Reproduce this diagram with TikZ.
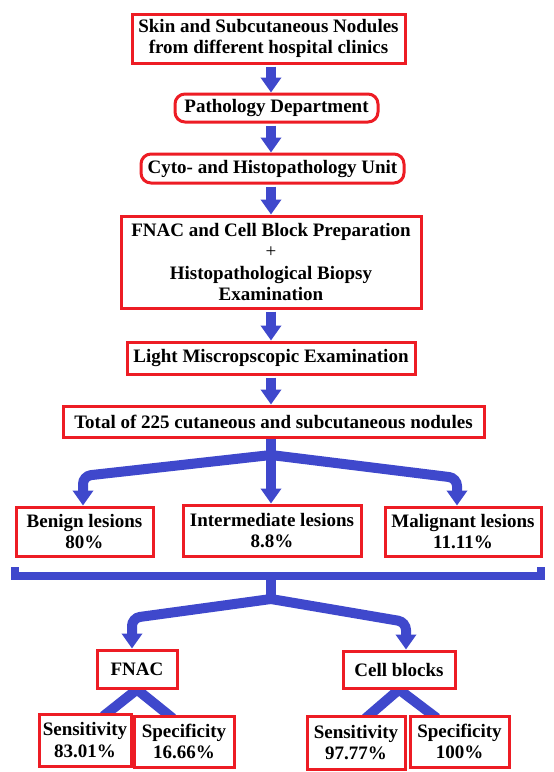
\documentclass[tikz,border=0pt]{standalone}
\usepackage{fontspec}
\setmainfont{Liberation Serif}
\usetikzlibrary{arrows.meta}
\definecolor{myred}{HTML}{ED1C24}
\definecolor{myblue}{HTML}{3F48CC}
\pgfdeclarelayer{bg}
\pgfsetlayers{bg,main}
\begin{document}
\begin{tikzpicture}[x=1pt,y=-1pt,
  font=\bfseries\fontsize{19}{21.5}\selectfont,
  box/.style={draw=myred, line width=3pt, align=center, inner sep=0pt, fill=white},
  rbox/.style={box, rounded corners=10pt},
  barrow/.style={draw=myblue, line width=10pt, -{Triangle[width=20pt,length=15pt]}},
  bline/.style={draw=myblue, line width=10pt, line cap=butt},
]
\useasboundingbox (0,0) rectangle (554,772);

% nodes
\node[box, minimum width=273pt, minimum height=49pt] (skin) at (268.5,38.5) {Skin and Subcutaneous Nodules\\from different hospital clinics};
\node[rbox, minimum width=203pt, minimum height=28pt] (pd) at (276.5,108) {Pathology Department};
\node[rbox, minimum width=263pt, minimum height=29pt] (cyto) at (272.5,168.5) {Cyto- and Histopathology Unit};
\node[box, minimum width=300pt, minimum height=92pt] (prep) at (271,262) {FNAC and Cell Block Preparation\\{\normalfont +}\\Histopathological Biopsy\\Examination};
\node[box, minimum width=288pt, minimum height=32pt] (light) at (271,358) {Light Miscropscopic Examination};
\node[box, minimum width=421pt, minimum height=31pt] (total) at (273.5,421.5) {Total of 225 cutaneous and subcutaneous nodules};
\node[box, minimum width=137pt, minimum height=49pt] (benign) at (84.5,531.5) {Benign lesions\\80\%};
\node[box, minimum width=178pt, minimum height=51pt] (inter) at (272,530.5) {Intermediate lesions\\8.8\%};
\node[box, minimum width=156pt, minimum height=49pt] (malig) at (463,531.5) {Malignant lesions\\11.11\%};
\node[box, minimum width=80pt, minimum height=38pt] (fnac) at (137,669) {FNAC};
\node[box, minimum width=112pt, minimum height=37pt] (cell) at (399,669.5) {Cell blocks};
\node[box, minimum width=92pt, minimum height=52pt] (sens1) at (85,740) {Sensitivity\\83.01\%};
\node[box, minimum width=100pt, minimum height=51pt] (spec1) at (184,741.5) {Specificity\\16.66\%};
\node[box, minimum width=98pt, minimum height=53pt] (sens2) at (356,742.5) {Sensitivity\\97.77\%};
\node[box, minimum width=99pt, minimum height=51pt] (spec2) at (459.5,741.5) {Specificity\\100\%};

% helper coordinates
\coordinate (ax) at (271,0);
\coordinate (j1) at (271,455);
\coordinate (bl) at (83,476);
\coordinate (br) at (457,478);
\coordinate (k1) at (15,567);
\coordinate (k2) at (541,567);
\coordinate (kb) at (271,576);
\coordinate (j2) at (271,599);
\coordinate (fl) at (132,618);
\coordinate (cr) at (406,622);
\coordinate (s1) at (108,0);
\coordinate (p1) at (168,0);
\coordinate (s2) at (370,0);
\coordinate (p2) at (432,0);

\begin{pgfonlayer}{bg}
\fill[white] (0,0) rectangle (554,772);
% vertical arrows
\draw[barrow, shorten <=2pt] (skin.south -| ax) -- (pd.north -| ax);
\draw[barrow, shorten <=2pt] (pd.south -| ax) -- (cyto.north -| ax);
\draw[barrow, shorten <=2pt] (cyto.south -| ax) -- (prep.north -| ax);
\draw[barrow, shorten <=2pt] (prep.south -| ax) -- (light.north -| ax);
\draw[barrow, shorten <=2pt] (light.south -| ax) -- (total.north -| ax);

% first tree
\draw[barrow] (total.south -| ax) -- (inter.north -| ax);
\draw[barrow, rounded corners=8pt] (j1) -- (bl) -- (bl |- benign.north);
\draw[barrow, rounded corners=8pt] (j1) -- (br) -- (br |- malig.north);

% bracket
\draw[draw=myblue, line width=8pt, line join=miter] (k1) -- (k1 |- kb) -- (k2 |- kb) -- (k2);
\draw[bline] (kb) -- (j2);
\draw[barrow, rounded corners=8pt] (j2) -- (fl) -- (fl |- fnac.north);
\draw[barrow, rounded corners=8pt] (j2) -- (cr) -- (cr |- cell.north);

% diagonal lines
\draw[bline, shorten <=-6pt, shorten >=-6pt] (fnac.south) -- (s1 |- sens1.north);
\draw[bline, shorten <=-6pt, shorten >=-6pt] (fnac.south) -- (p1 |- spec1.north);
\draw[bline, shorten <=-6pt, shorten >=-6pt] (cell.south) -- (s2 |- sens2.north);
\draw[bline, shorten <=-6pt, shorten >=-6pt] (cell.south) -- (p2 |- spec2.north);
\end{pgfonlayer}
\end{tikzpicture}
\end{document}
